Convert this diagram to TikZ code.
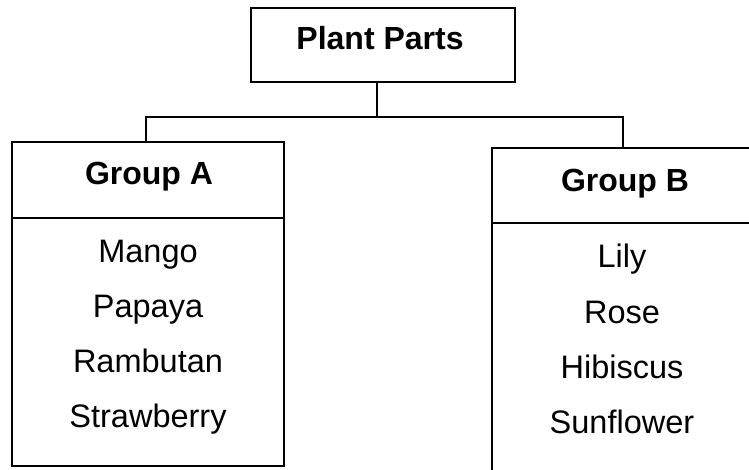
\documentclass[tikz,border=0pt]{standalone}
\usepackage{fontspec}
\setmainfont{Liberation Sans}
\begin{document}
\begin{tikzpicture}[x=1pt,y=1pt,
  box/.style={draw=black,line width=2pt,rectangle,inner sep=0pt},
  conn/.style={draw=black,line width=1.6pt},
  head/.style={anchor=base,font=\fontsize{32}{36}\selectfont\bfseries,inner sep=0pt},
  item/.style={anchor=base,font=\fontsize{32.5}{36}\selectfont,inner sep=0pt}]
\useasboundingbox (0,0) rectangle (749,469);
\clip (0,0) rectangle (749,469);
% boxes
\node[box,minimum width=264pt,minimum height=74pt] (pp) at (383,424) {};
\node[box,minimum width=272pt,minimum height=324pt] (ga) at (148,165) {};
\node[box,minimum width=278pt,minimum height=342pt] (gb) at (631,150) {};
% dividers
\coordinate (da) at (0,251);
\coordinate (db) at (0,246);
\draw[line width=2pt] (ga.west |- da) -- (ga.east |- da);
\draw[line width=2pt] (gb.west |- db) -- (gb.east |- db);
% connectors
\coordinate (j) at (377,352);
\coordinate (ja) at (146,352);
\coordinate (jb) at (623,352);
\draw[conn] (pp.south -| j) -- (j);
\draw[conn] (ja |- ga.north) -- (ja) -- (jb) -- (jb |- gb.north);
% texts
\node[head] (tpp) at (380,419) {Plant Parts};
\node[head] (tga) at (149,284) {Group A};
\node[head] (tgb) at (625,277) {Group B};
\node[item] (a1) at (148,207) {Mango};
\node[item] (a2) at (148,152) {Papaya};
\node[item] (a3) at (148,97) {Rambutan};
\node[item] (a4) at (148,42) {Strawberry};
\node[item] (b1) at (622,201) {Lily};
\node[item] (b2) at (622,146) {Rose};
\node[item] (b3) at (622,91) {Hibiscus};
\node[item] (b4) at (622,36) {Sunflower};
\end{tikzpicture}
\end{document}
